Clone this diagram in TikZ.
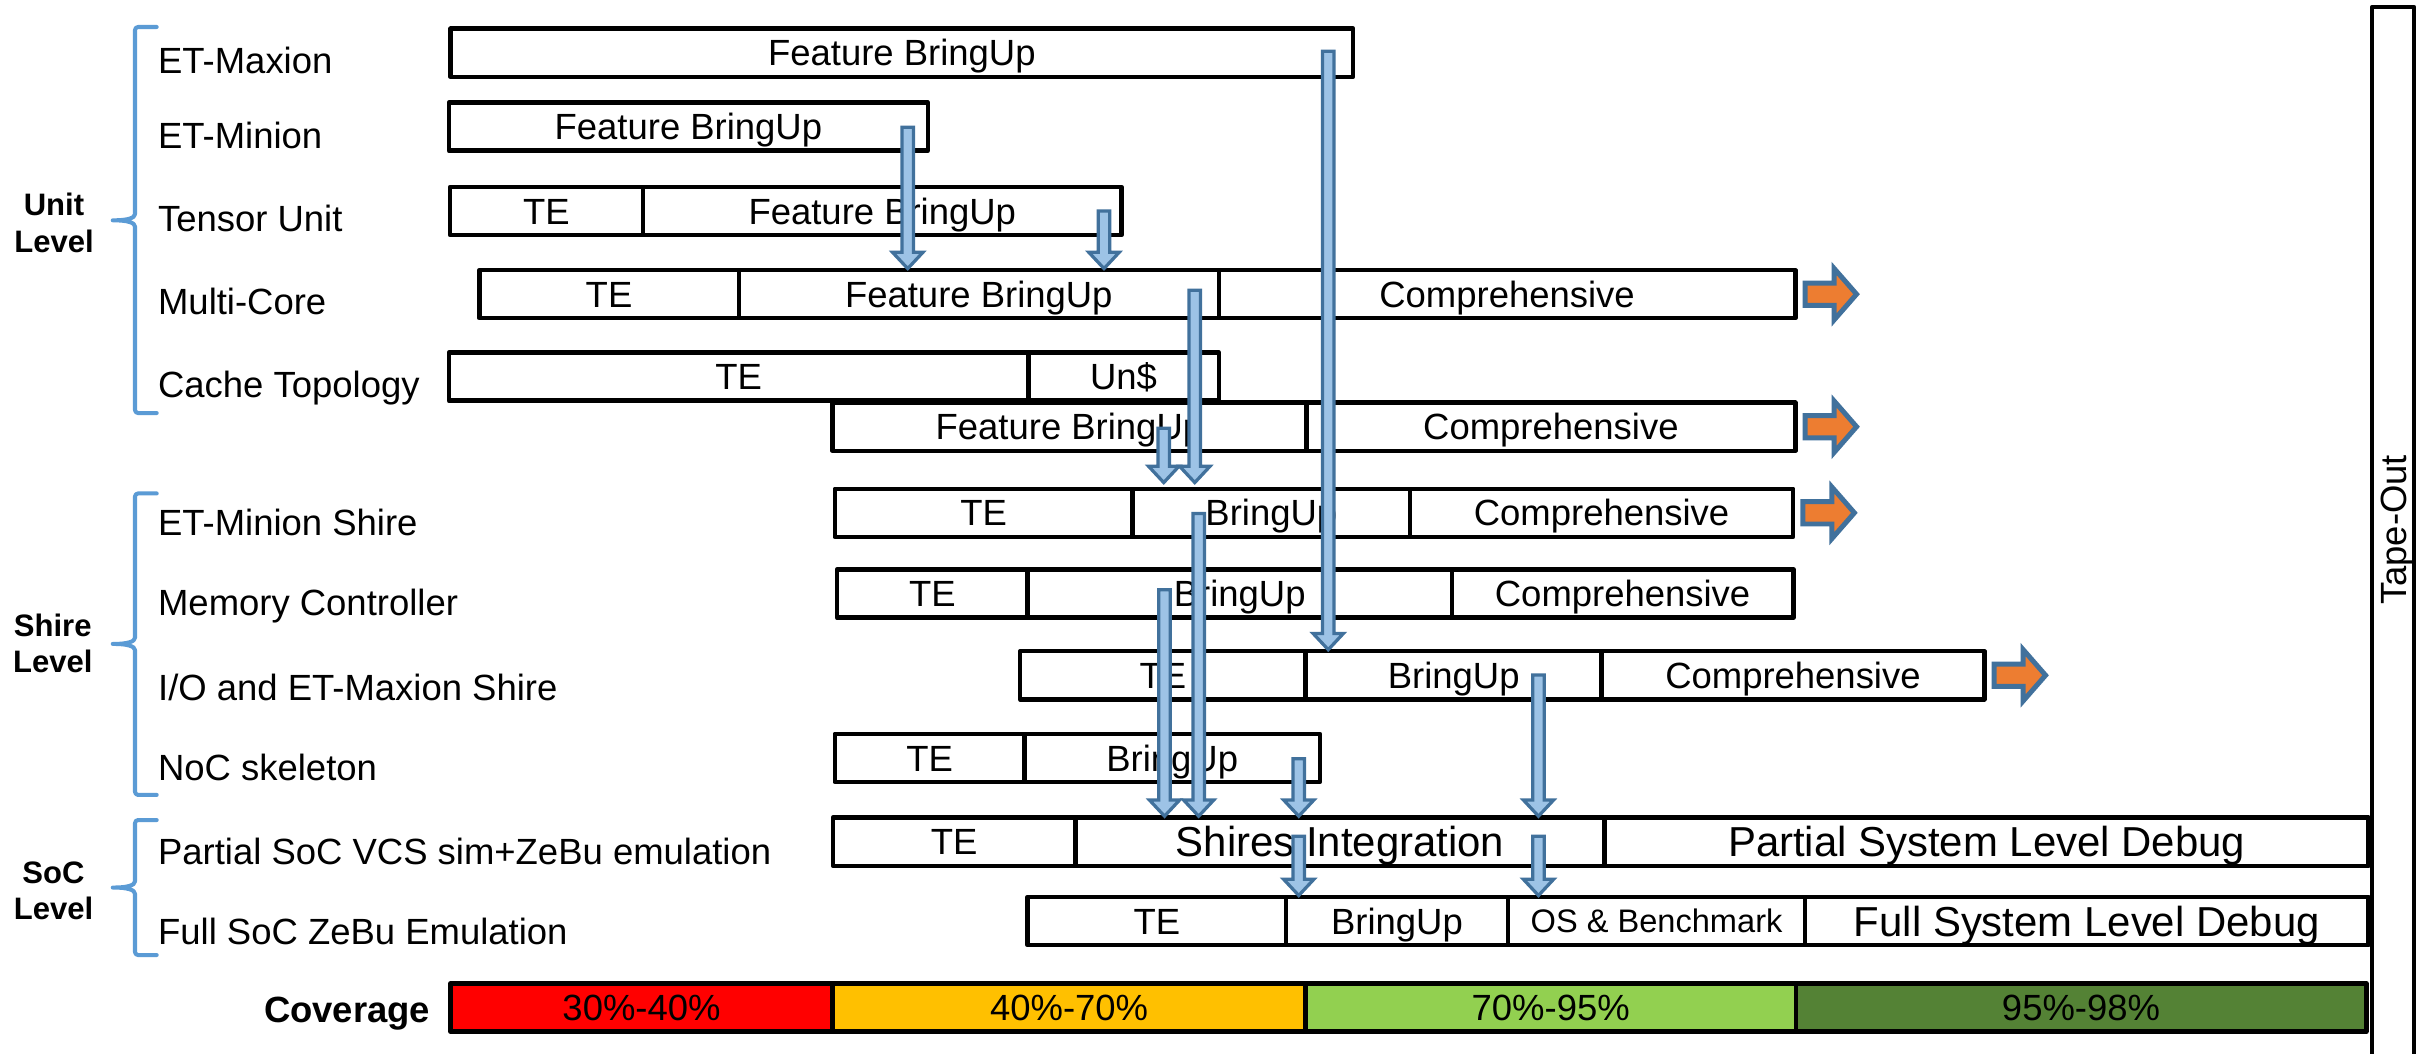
\documentclass[tikz,border=0pt]{standalone}
\usepackage{fontspec}
\setmainfont{Liberation Sans}
\usetikzlibrary{calc}

\definecolor{flowline}{RGB}{65,113,156}
\definecolor{flowfill}{RGB}{157,195,230}
\definecolor{braceblue}{RGB}{91,155,213}
\definecolor{moreorange}{RGB}{237,125,49}
\definecolor{covred}{RGB}{255,0,0}
\definecolor{covorange}{RGB}{255,192,0}
\definecolor{covlight}{RGB}{146,208,80}
\definecolor{covdark}{RGB}{84,130,53}

\tikzset{
  seg/.style={draw=black, line width=2.9pt, line join=round, inner sep=0pt, outer sep=0pt,
    minimum height=31pt, text height=16.8pt, text depth=0pt, font=\fontsize{23.5}{28}\selectfont},
  bigseg/.style={seg, text height=19.3pt, font=\fontsize{27}{32}\selectfont},
  smallseg/.style={seg, text height=15pt, font=\fontsize{21}{25}\selectfont},
  rowlabel/.style={anchor=west, inner sep=0pt, text height=16.8pt, text depth=0pt,
    font=\fontsize{23.5}{28}\selectfont},
  levellabel/.style={align=center, inner sep=0pt, font=\fontsize{20}{23.5}\selectfont\bfseries},
  bracket/.style={draw=braceblue, line width=2.6pt, line cap=round, line join=round},
  flow/.style={draw=flowline, fill=flowfill, line width=2.1pt, line join=miter},
  more/.style={draw=flowline, fill=moreorange, line width=3.2pt, line join=miter},
}

% one segment of a bar: [style]{name}{x left}{x right}{y centre}{text}
\newcommand\seg[6][seg]{\node[#1, minimum width={#4-#3}] (#2) at ({(#3+#4)/2},#5) {#6};}

% downward block arrow from a start coordinate to the level of a target point
\newcommand\flowarrow[2]{%
  \path[flow] let \p1=(#1), \p2=(#2) in
    (\x1-3.7pt,\y1-1pt) -- (\x1+3.7pt,\y1-1pt) -- (\x1+3.7pt,\y2+11.5pt)
    -- (\x1+9.8pt,\y2+11.5pt) -- (\x1,\y2+1pt) -- (\x1-9.8pt,\y2+11.5pt)
    -- (\x1-3.7pt,\y2+11.5pt) -- cycle;}

% right-pointing block arrow after the east end of a bar
\newcommand\moreptr[1]{%
  \path[more] let \p1=(#1) in
    (\x1+6.3pt,\y1+7.2pt) -- (\x1+25pt,\y1+7.2pt) -- (\x1+25pt,\y1+16.6pt)
    -- (\x1+39.5pt,\y1) -- (\x1+25pt,\y1-16.6pt) -- (\x1+25pt,\y1-7.2pt)
    -- (\x1+6.3pt,\y1-7.2pt) -- cycle;}

% curly bracket: top, tip, bottom
\newcommand\levelbrace[3]{%
  \draw[bracket, rounded corners=2pt] (101,#1) -- (87,#1) -- (87,{#2-6})
    .. controls (87,{#2-1.5}) and (82,#2) .. (71.5,#2)
    .. controls (82,#2) and (87,{#2+1.5}) .. (87,{#2+6}) -- (87,#3) -- (101,#3);}

\begin{document}
\begin{tikzpicture}[x=1pt,y=-1pt]
\useasboundingbox[fill=white] (0,0) rectangle (1568,679);

% level brackets and their captions
\levelbrace{17.4}{142}{266.2}
\levelbrace{318}{415}{512.3}
\levelbrace{528.5}{572}{615.5}
\node[levellabel] (unitlvl) at (34.8,143.7) {Unit\\Level};
\node[levellabel] (shirelvl) at (34,414.5) {Shire\\Level};
\node[levellabel] (soclvl) at (34.5,574) {SoC\\Level};

% row captions
\node[rowlabel] (etmax) at (101.7,38.7) {ET-Maxion};
\node[rowlabel] (etmin) at (101.7,87) {ET-Minion};
\node[rowlabel] (tensor) at (101.7,140.7) {Tensor Unit};
\node[rowlabel] (multi) at (101.7,194.4) {Multi-Core};
\node[rowlabel] (cache) at (101.7,248) {Cache Topology};
\node[rowlabel] (minshire) at (101.7,337) {ET-Minion Shire};
\node[rowlabel] (memctl) at (101.7,388.4) {Memory Controller};
\node[rowlabel] (iomax) at (101.7,442.8) {I/O and ET-Maxion Shire};
\node[rowlabel] (noc) at (101.7,494.5) {NoC skeleton};
\node[rowlabel] (psoc) at (101.7,548.8) {Partial SoC VCS sim+ZeBu emulation};
\node[rowlabel] (fsoc) at (101.7,600) {Full SoC ZeBu Emulation};
\node[rowlabel, anchor=east, font=\fontsize{23.5}{28}\selectfont\bfseries] (cov) at (277.5,650.5) {Coverage};

% bars
\seg{maxfb}{290.4}{872}{34}{Feature BringUp}
\seg{minfb}{289.3}{598}{81.6}{Feature BringUp}
\seg{tute}{290}{414.4}{136}{TE}
\seg{tufb}{414.4}{722.8}{136}{Feature BringUp}
\seg{mcte}{308.9}{476.1}{189.6}{TE}
\seg{mcfb}{476.1}{785.5}{189.6}{Feature BringUp}
\seg{mccomp}{785.5}{1157}{189.6}{Comprehensive}
\seg{ctte}{289.3}{662.7}{242.75}{TE}
\seg{ctun}{662.7}{785.5}{242.75}{Un\$}
\seg{cofb}{536.4}{842}{275}{Feature BringUp}
\seg{cocomp}{842}{1157}{275}{Comprehensive}
\seg{mste}{538}{730}{330.5}{TE}
\seg{msbu}{730}{908.7}{330.5}{BringUp}
\seg{mscomp}{908.7}{1155.6}{330.5}{Comprehensive}
\seg{mmte}{539.4}{662.3}{382.6}{TE}
\seg{mmbu}{662.3}{935.6}{382.6}{BringUp}
\seg{mmcomp}{935.6}{1155.8}{382.6}{Comprehensive}
\seg{iote}{657.4}{841.5}{435.2}{TE}
\seg{iobu}{841.5}{1032.2}{435.2}{BringUp}
\seg{iocomp}{1032.2}{1278.8}{435.2}{Comprehensive}
\seg{nocte}{538}{660.3}{488.5}{TE}
\seg{nocbu}{660.3}{850.6}{488.5}{BringUp}
\seg{pte}{536.8}{693.1}{542.5}{TE}
\seg[bigseg]{pint}{693.1}{1034.2}{542.5}{Shires Integration}
\seg[bigseg]{pdbg}{1034.2}{1526.4}{542.5}{Partial System Level Debug}
\seg{fte}{662.3}{828.8}{593.6}{TE}
\seg{fbu}{828.8}{971.8}{593.6}{BringUp}
\seg[smallseg]{fos}{971.8}{1163.4}{593.6}{OS \& Benchmark}
\seg[bigseg]{fdbg}{1163.4}{1526.4}{593.6}{Full System Level Debug}

% coverage scale
\seg[seg, fill=covred]{cva}{290.4}{536.5}{649.3}{30\%-40\%}
\seg[seg, fill=covorange]{cvb}{536.5}{841.5}{649.3}{40\%-70\%}
\seg[seg, fill=covlight]{cvc}{841.5}{1157.3}{649.3}{70\%-95\%}
\seg[seg, fill=covdark]{cvd}{1157.3}{1525}{649.3}{95\%-98\%}

% tape-out column
\draw[line width=2.9pt, line join=round] (1528.8,681) -- (1528.8,4.5) -- (1555.7,4.5) -- (1555.7,681);
\node[rotate=90, inner sep=0pt, text height=16.8pt, text depth=0pt,
  font=\fontsize{23.5}{28}\selectfont] (tapeout) at (1542.25,341.5) {Tape-Out};

% continuation arrows
\moreptr{mccomp.east}
\moreptr{cocomp.east}
\moreptr{mscomp.east}
\moreptr{iocomp.east}

% dependency arrows
\coordinate (s1) at (585,81);
\coordinate (s2) at (711.5,135);
\coordinate (s3) at (856,32);
\coordinate (s4) at (770,186);
\coordinate (s5) at (750,275);
\coordinate (s6) at (772.5,330);
\coordinate (s7) at (750.5,379);
\coordinate (s8) at (837,488);
\coordinate (s9) at (991.5,434);
\coordinate (s10) at (837,538);
\coordinate (s11) at (991.5,538);
\flowarrow{s1}{mcfb.north}
\flowarrow{s2}{mcfb.north}
\flowarrow{s3}{iobu.north}
\flowarrow{s4}{$(msbu.north)+(0,-3)$}
\flowarrow{s5}{$(msbu.north)+(0,-3)$}
\flowarrow{s6}{pint.north}
\flowarrow{s7}{pint.north}
\flowarrow{s8}{pint.north}
\flowarrow{s9}{pint.north}
\flowarrow{s10}{fbu.north}
\flowarrow{s11}{fos.north}
\end{tikzpicture}
\end{document}
